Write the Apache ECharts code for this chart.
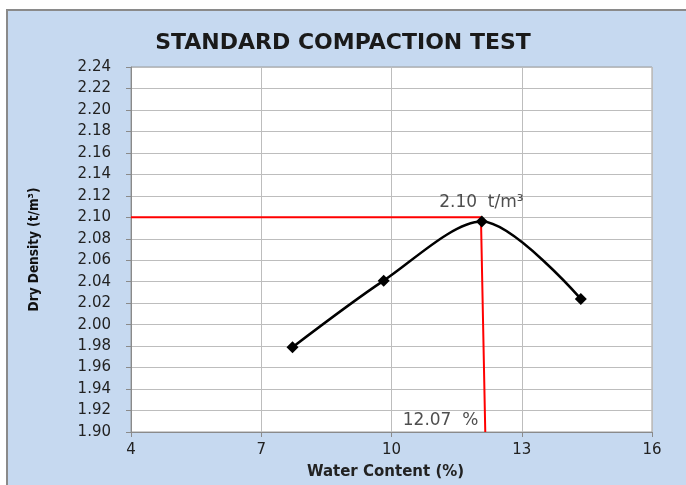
<!DOCTYPE html>
<html>
<head>
<meta charset="utf-8">
<script src="https://cdn.jsdelivr.net/npm/echarts@6/dist/echarts.min.js"></script>
<style>
html,body{margin:0;padding:0;background:#fff;overflow:hidden;width:686px;height:485px;}
#bg{position:absolute;left:6px;top:9px;width:678px;height:474px;background:#c6d9f0;border-left:2px solid #8a8a8a;border-top:2px solid #8a8a8a;}
#chart{position:absolute;left:0;top:0;width:686px;height:485px;}
</style>
</head>
<body>
<div id="bg"></div>
<div id="chart"></div>
<script>
// Data
const waterContent = [7.72, 9.82, 12.08, 14.36];
const dryDensity = [1.979, 2.041, 2.096, 2.024];
const mddLine = [[4, 2.10], [12.06, 2.10], [12.16, 1.90]];
const omc = 12.07;
const mdd = 2.10;
const xTicks = {min: 4, max: 16, step: 3};
const yTicks = {min: 1.90, max: 2.24, step: 0.02};

const chart = echarts.init(document.getElementById('chart'), null, {renderer: 'canvas', width: 686, height: 485});
chart.setOption({
  backgroundColor: 'transparent',
  animation: false,
  title: {
    text: 'STANDARD COMPACTION TEST',
    left: 'center', top: 27,
    textStyle: {fontFamily: 'DejaVu Sans', fontWeight: 'bold', fontSize: 22, color: '#1a1a1a'}
  },
  grid: {left: 131, right: 34, top: 67, bottom: 48, show: true, backgroundColor: '#fff', borderColor: '#9a9a9a', borderWidth: 1},
  xAxis: {
    type: 'value', min: xTicks.min, max: xTicks.max, interval: xTicks.step,
    name: 'Water Content (%)', nameLocation: 'middle', nameGap: 33,
    nameTextStyle: {fontFamily: 'DejaVu Sans', fontWeight: 'bold', fontSize: 15, color: '#222', padding: [0, 12, 0, 0]},
    axisLine: {lineStyle: {color: '#8a8a8a'}},
    axisTick: {show: true, length: 5, lineStyle: {color: '#8a8a8a'}},
    axisLabel: {fontFamily: 'DejaVu Sans', fontSize: 15, color: '#222', margin: 11},
    splitLine: {show: true, lineStyle: {color: '#bdbdbd', width: 1}}
  },
  yAxis: {
    type: 'value', min: yTicks.min, max: yTicks.max, interval: yTicks.step,
    name: 'Dry Density (t/m³)', nameLocation: 'middle', nameGap: 90, nameRotate: 90,
    nameTextStyle: {fontFamily: 'DejaVu Sans Condensed', fontWeight: 'bold', fontSize: 13.5, color: '#111'},
    axisLine: {show: true, lineStyle: {color: '#8a8a8a'}},
    axisTick: {show: true, length: 5, lineStyle: {color: '#8a8a8a'}},
    axisLabel: {fontFamily: 'DejaVu Sans', fontSize: 15, color: '#222', margin: 20, formatter: v => v.toFixed(2)},
    splitLine: {show: true, lineStyle: {color: '#bdbdbd', width: 1}}
  },
  series: [
    {
      type: 'line', data: mddLine, symbol: 'none', silent: true,
      lineStyle: {color: '#ff0000', width: 2}, z: 3
    },
    {
      type: 'line', smooth: 0.3,
      data: waterContent.map((x, i) => [x, dryDensity[i]]),
      symbol: 'diamond', symbolSize: 12,
      itemStyle: {color: '#000'},
      lineStyle: {color: '#000', width: 2.5}, z: 4
    },
    {
      type: 'scatter', symbolSize: 0, silent: true,
      data: [[omc, mdd]],
      label: {show: true, position: 'top', distance: 6, formatter: mdd.toFixed(2) + '  t/m³',
        fontFamily: 'DejaVu Sans', fontSize: 17, color: '#222'}
    },
    {
      type: 'scatter', symbolSize: 0, silent: true,
      data: [[omc, yTicks.min]],
      label: {show: true, position: 'left', distance: 3, offset: [0, -11], formatter: omc.toFixed(2) + '  %',
        fontFamily: 'DejaVu Sans', fontSize: 17, color: '#222'}
    }
  ]
});
</script>
</body>
</html>
